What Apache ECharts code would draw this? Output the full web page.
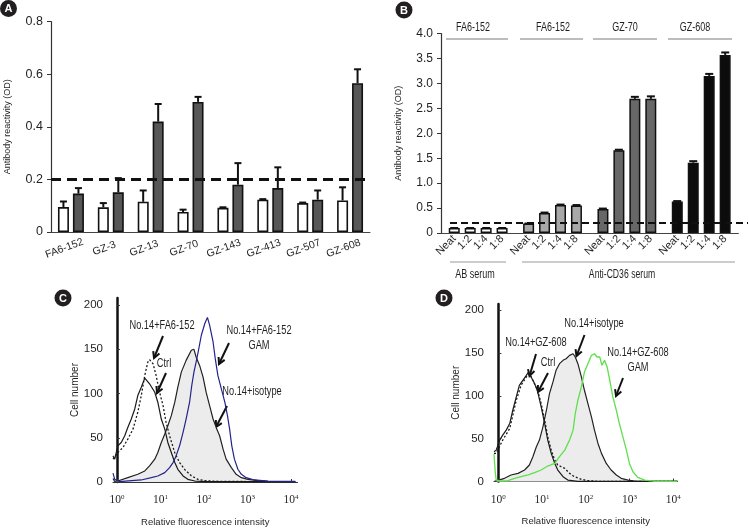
<!DOCTYPE html>
<html><head><meta charset="utf-8">
<script src="https://cdn.jsdelivr.net/npm/echarts@6/dist/echarts.min.js"></script>
<style>html,body{margin:0;padding:0;background:#fff}#c{width:749px;height:528px}</style>
</head><body><div id="c"></div>
<script>
const FONT = "'Liberation Sans Narrow','Liberation Sans',Arial,sans-serif";
const SERIF = "'Liberation Serif','DejaVu Serif',serif";

// ---------- Panel A ----------
const A_categories = ['FA6-152','GZ-3','GZ-13','GZ-70','GZ-143','GZ-413','GZ-507','GZ-608'];
const A_white    = [0.095,0.094,0.115,0.076,0.092,0.123,0.110,0.120];
const A_whiteErr = [0.116,0.110,0.158,0.085,0.094,0.125,0.112,0.170];
const A_dark     = [0.146,0.151,0.420,0.495,0.180,0.167,0.123,0.566];
const A_darkErr  = [0.167,0.205,0.487,0.514,0.262,0.246,0.158,0.619];
const A_cutoff = 0.2;

// ---------- Panel B ----------
const B_groups = ['FA6-152 AB','FA6-152','GZ-70','GZ-608'];
const B_groupLabels = ['FA6-152','FA6-152','GZ-70','GZ-608'];
const B_dilutions = ['Neat','1:2','1:4','1:8'];
const B_neat = [0.10,0.19,0.48,0.63];
const B_d2   = [0.10,0.40,1.66,1.41];
const B_d4   = [0.10,0.56,2.69,3.15];
const B_d8   = [0.10,0.55,2.69,3.57];
const B_neatErr = [0.10,0.19,0.49,0.64];
const B_d2Err   = [0.10,0.41,1.67,1.44];
const B_d4Err   = [0.10,0.57,2.73,3.19];
const B_d8Err   = [0.10,0.56,2.74,3.62];
const B_cutoff = 0.2;
const B_serumLabels = ['AB serum','Anti-CD36 serum'];

// ---------- Panel C (x = log10 intensity, y = cell number) ----------
const C_ticks = [0,1,2,3,4];
const C_fa = [[-0.09,29.5],[-0.05,25.8],[0.02,40.9],[0.10,44.7],[0.18,52.3],[0.25,61.7],[0.33,71.2],[0.41,82.6],[0.48,97.7],[0.56,107.2],[0.64,117.4],[0.67,119.3],[0.75,111],[0.87,101.5],[0.94,90.2],[1.02,71.2],[1.10,59.8],[1.17,44.7],[1.25,33.3],[1.33,22],[1.40,14.4],[1.52,6.8],[1.63,3],[1.79,1.1],[2.09,0.4],[4.1,0.4]];
const C_ctrl = [[-0.09,25.8],[0.02,33.3],[0.14,39],[0.25,48.5],[0.37,59.8],[0.48,78.8],[0.56,97.7],[0.64,120.5],[0.71,135.6],[0.75,138.3],[0.83,133.7],[0.90,120.5],[0.98,101.5],[1.06,86.4],[1.13,67.4],[1.21,52.3],[1.33,33],[1.44,22],[1.56,14],[1.71,7],[1.86,3],[2.02,1.5],[2.40,0.6],[4.1,0.4]];
const C_iso = [[-0.09,4],[-0.05,0.6],[0.02,1.1],[0.25,4.9],[0.48,8.7],[0.64,12.5],[0.75,18.2],[0.87,25.8],[0.94,33.3],[1.02,44.7],[1.10,54.2],[1.17,63.6],[1.25,75],[1.33,90.2],[1.40,107.2],[1.48,124.2],[1.59,137.5],[1.71,148.9],[1.77,150],[1.82,141.3],[1.90,131.8],[1.98,118.6],[2.05,101.5],[2.13,86.4],[2.21,71.2],[2.28,61.7],[2.36,52.3],[2.44,37.1],[2.51,25.8],[2.63,16.3],[2.74,8.7],[2.86,4.9],[3.01,3],[3.24,1.5],[3.47,0.8],[4.1,0.4]];
const C_gam = [[-0.09,10],[-0.05,3],[0.05,0.5],[0.56,2.3],[0.79,4.9],[0.94,6.8],[1.10,10.6],[1.21,16.3],[1.29,22],[1.36,29.5],[1.44,40.9],[1.52,56.1],[1.59,71.2],[1.67,90.2],[1.72,109.1],[1.77,124.2],[1.82,135.6],[1.86,145.1],[1.94,165.9],[2.02,179.2],[2.08,186],[2.13,177.3],[2.21,158.3],[2.26,139.4],[2.32,120.5],[2.40,105.3],[2.48,90.2],[2.54,75],[2.59,59.8],[2.64,40.9],[2.70,25.8],[2.78,14.4],[2.86,8.7],[2.97,4.9],[3.16,2.3],[3.47,1.1],[4.1,0.8]];

// ---------- Panel D ----------
const D_gz = [[-0.10,34.7],[-0.05,36.6],[0.03,48.3],[0.10,54.1],[0.18,59.9],[0.26,67.6],[0.33,83.1],[0.41,98.6],[0.48,112.2],[0.56,118],[0.64,123.8],[0.69,127.7],[0.75,121.9],[0.83,114.1],[0.90,104.5],[0.98,87],[1.06,67.6],[1.13,48.3],[1.21,32.8],[1.29,21.1],[1.36,13.4],[1.48,5.6],[1.59,1.7],[1.82,0.2],[4.1,0.2]];
const D_ctrl = [[-0.10,32.8],[-0.05,32.8],[0.10,48.3],[0.26,61.8],[0.41,94.8],[0.52,112.2],[0.64,121.9],[0.71,125.8],[0.79,118],[0.90,106.4],[0.98,90.9],[1.06,71.5],[1.13,52.1],[1.21,36.6],[1.29,25],[1.36,19.2],[1.44,17.2],[1.52,15.3],[1.63,9.5],[1.74,5.6],[1.90,2.5],[2.05,1],[2.28,0.2],[4.1,0.2]];
const D_iso = [[-0.09,0.2],[0.14,3.7],[0.29,7.6],[0.45,9.5],[0.60,13.4],[0.71,19.2],[0.79,28.9],[0.87,40.5],[0.94,48.3],[1.02,63.8],[1.10,83.1],[1.17,102.5],[1.25,116.1],[1.32,129.7],[1.40,137.4],[1.48,141.3],[1.55,143.2],[1.63,147.1],[1.71,149],[1.76,145.2],[1.82,137.4],[1.90,121.9],[1.97,106.4],[2.05,90.9],[2.13,75.4],[2.20,59.9],[2.28,44.4],[2.36,32.8],[2.47,21.1],[2.58,13.4],[2.70,7.6],[2.81,3.7],[2.97,1.7],[3.12,0.6],[3.35,0.2],[4.1,0.2]];
const D_gam = [[-0.10,32],[-0.07,10],[-0.05,1.7],[0.06,0.6],[0.22,1],[0.37,3.7],[0.52,5.6],[0.68,7.6],[0.83,10.3],[0.98,13.4],[1.13,18],[1.29,21.1],[1.40,28.9],[1.52,36.6],[1.63,48.3],[1.71,59.9],[1.76,79.3],[1.82,94.8],[1.90,110.3],[1.97,127.7],[2.05,137.4],[2.13,147.1],[2.20,149],[2.26,145.2],[2.32,145.2],[2.37,135.5],[2.43,141.3],[2.49,133.5],[2.55,118],[2.62,98.6],[2.70,83.1],[2.77,67.6],[2.85,52.1],[2.93,36.6],[3.00,21.1],[3.08,11.4],[3.19,4.8],[3.35,1.7],[3.58,0.2],[4.1,0.2]];

// ---------- styles ----------
const TXT = '#231f20';
const B_colors = ['#ffffff','#a8a8a8','#676767','#0c0c0c'];
const BAR_W = 11;
const NARROW = 0.74;

function errorBar(offset, cap) {
  return function (params, api) {
    const i = api.value(0);
    const base = api.coord([i, api.value(1)]);
    const top = api.coord([i, api.value(2)]);
    const x = base[0] + offset;
    return { type: 'group', children: [
      { type: 'line', shape: { x1: x, y1: base[1], x2: x, y2: top[1] }, style: { stroke: '#111', lineWidth: 2 } },
      { type: 'line', shape: { x1: x - cap, y1: top[1], x2: x + cap, y2: top[1] }, style: { stroke: '#111', lineWidth: 2 } }
    ]};
  };
}

function arrow(x1, y1, x2, y2) {
  const a = Math.atan2(y2 - y1, x2 - x1), L = 7, w = 0.5;
  return [
    { type: 'line', shape: { x1, y1, x2, y2 }, style: { stroke: '#111', lineWidth: 2 } },
    { type: 'polyline', shape: { points: [[x2 - L * Math.cos(a - w), y2 - L * Math.sin(a - w)], [x2, y2], [x2 - L * Math.cos(a + w), y2 - L * Math.sin(a + w)]] }, style: { stroke: '#111', lineWidth: 2, fill: null } }
  ];
}
function txt(x, y, t, size, sx, rot) {
  return { type: 'text', x, y, scaleX: sx || NARROW, rotation: rot || 0,
    style: { text: t, fontSize: size || 12.5, fontFamily: FONT, fill: TXT, align: 'center', verticalAlign: 'middle' } };
}
function badge(cx, cy, letter) {
  return [
    { type: 'circle', shape: { cx, cy, r: 8.5 }, style: { fill: '#231f20' } },
    { type: 'text', x: cx, y: cy + 0.5, style: { text: letter, fontSize: 11, fontWeight: 'bold', fontFamily: "'Liberation Sans',Arial,sans-serif", fill: '#fff', align: 'center', verticalAlign: 'middle' } }
  ];
}

const decFmt = v => (v === 0 ? '0' : v.toFixed(1));
const flowX = (idx, min, max) => ({
  gridIndex: idx, type: 'value', min, max,
  axisLine: { lineStyle: { color: '#333', width: 1 } },
  axisTick: { show: true, inside: true, length: 3, customValues: C_ticks, lineStyle: { color: '#333' } },
  splitLine: { show: false },
  axisLabel: { customValues: C_ticks, margin: 12, formatter: v => '{b|10}{s|' + v + '}',
    rich: { b: { fontSize: 11.5, fontFamily: SERIF, color: TXT }, s: { fontSize: 7, fontFamily: SERIF, color: TXT, verticalAlign: 'top' } } },
  name: 'Relative fluorescence intensity', nameLocation: 'middle', nameGap: 35,
  nameTextStyle: { fontSize: 9.5, fontFamily: FONT, color: TXT }
});
const flowY = (idx, max) => ({
  gridIndex: idx, type: 'value', min: 0, max,
  axisLine: { lineStyle: { color: '#111', width: 2.5 } },
  axisTick: { show: true, inside: true, length: 3, customValues: [0,50,100,150,200], lineStyle: { color: '#333' } },
  splitLine: { show: false },
  axisLabel: { customValues: [0,50,100,150,200], margin: 10, fontSize: 11.5, fontFamily: FONT, color: TXT },
  name: 'Cell number', nameLocation: 'middle', nameGap: 33,
  nameTextStyle: { fontSize: 10, fontFamily: FONT, color: TXT }
});
const flowLine = (xi, data, color, type, width, area) => ({
  type: 'line', xAxisIndex: xi, yAxisIndex: xi, data, showSymbol: false, smooth: false,
  lineStyle: { color, type: type || 'solid', width: width || 1.2 },
  areaStyle: area ? { color: area, opacity: 1 } : undefined,
  silent: true
});

const bSeries = [B_neat, B_d2, B_d4, B_d8];
const bErr = [B_neatErr, B_d2Err, B_d4Err, B_d8Err];

const option = {
  animation: false,
  backgroundColor: '#fff',
  textStyle: { fontFamily: FONT },
  grid: [
    { left: 51, top: 21.7, width: 319, height: 210.3 },
    { left: 441, top: 33.5, width: 297.4, height: 199.5 },
    { left: 450, top: 33.5, right: 1, height: 199.5 },
    { left: 113, top: 298, width: 184.5, height: 184 },
    { left: 494, top: 304, width: 183.5, height: 177.5 }
  ],
  xAxis: [
    { gridIndex: 0, type: 'category', data: A_categories,
      axisLine: { lineStyle: { color: '#444', width: 1 } }, axisTick: { show: false },
      axisLabel: { rotate: 20, align: 'center', verticalAlign: 'middle', padding: [0, 14, 0, 0], margin: 14, fontSize: 10.5, fontFamily: FONT, color: TXT, interval: 0 } },
    { gridIndex: 1, type: 'category', data: B_groups,
      axisLine: { lineStyle: { color: '#444', width: 1 } }, axisTick: { show: false }, axisLabel: { show: false } },
    { gridIndex: 2, type: 'value', min: 0, max: 1, show: false },
    flowX(3, -0.09, 4.15),
    flowX(4, -0.1, 4.1)
  ],
  yAxis: [
    { gridIndex: 0, type: 'value', min: 0, max: 0.8, interval: 0.2,
      axisLine: { show: true, lineStyle: { color: '#333', width: 1.2 } },
      axisTick: { show: true, length: 4, lineStyle: { color: '#333' } }, splitLine: { show: false },
      axisLabel: { formatter: decFmt, fontSize: 12.5, fontFamily: FONT, color: TXT, margin: 8 },
      name: 'Antibody reactivity (OD)', nameLocation: 'middle', nameGap: 39,
      nameTextStyle: { fontSize: 9, fontFamily: FONT, color: TXT } },
    { gridIndex: 1, type: 'value', min: 0, max: 4, interval: 0.5,
      axisLine: { show: true, lineStyle: { color: '#333', width: 1.2 } },
      axisTick: { show: true, length: 4, lineStyle: { color: '#333' } }, splitLine: { show: false },
      axisLabel: { formatter: decFmt, fontSize: 12, fontFamily: FONT, color: TXT, margin: 8 },
      name: 'Antibody reactivity (OD)', nameLocation: 'middle', nameGap: 38,
      nameTextStyle: { fontSize: 9, fontFamily: FONT, color: TXT } },
    { gridIndex: 2, type: 'value', min: 0, max: 4, show: false },
    flowY(3, 208),
    flowY(4, 207)
  ],
  series: [
    // Panel A
    { type: 'bar', xAxisIndex: 0, yAxisIndex: 0, data: A_white, barWidth: BAR_W, barGap: '36%',
      itemStyle: { color: '#fff', borderColor: '#111', borderWidth: 1.6 } },
    { type: 'bar', xAxisIndex: 0, yAxisIndex: 0, data: A_dark, barWidth: BAR_W, barGap: '36%',
      itemStyle: { color: '#575757', borderColor: '#111', borderWidth: 1.6 },
      markLine: { silent: true, symbol: 'none', label: { show: false }, data: [{ yAxis: A_cutoff }],
        lineStyle: { color: '#111', width: 3, type: [10, 6] } } },
    { type: 'custom', xAxisIndex: 0, yAxisIndex: 0, renderItem: errorBar(-7.5, 3.5), encode: { x: 0, y: 1 },
      data: A_categories.map((c, i) => [i, A_white[i], A_whiteErr[i]]) },
    { type: 'custom', xAxisIndex: 0, yAxisIndex: 0, renderItem: errorBar(7.5, 3.5), encode: { x: 0, y: 1 },
      data: A_categories.map((c, i) => [i, A_dark[i], A_darkErr[i]]) },
    // Panel B
    ...bSeries.map((vals, d) => ({
      type: 'bar', name: B_dilutions[d], xAxisIndex: 1, yAxisIndex: 1, barWidth: BAR_W, barGap: '45%',
      data: vals.map((v, g) => ({ value: v, itemStyle: { color: B_colors[g] } })),
      itemStyle: { borderColor: '#111', borderWidth: 1.5 },
      label: { show: true, position: 'bottom', distance: 4, rotate: 45, align: 'right', verticalAlign: 'middle',
        formatter: '{a}', fontSize: 11, fontFamily: FONT, color: TXT }
    })),
    ...bErr.map((errs, d) => ({
      type: 'custom', xAxisIndex: 1, yAxisIndex: 1, renderItem: errorBar((d - 1.5) * 16, 4), encode: { x: 0, y: 1 },
      data: B_groups.map((g, i) => [i, bSeries[d][i], errs[i]])
    })),
    { type: 'line', xAxisIndex: 2, yAxisIndex: 2, data: [[0, B_cutoff], [1, B_cutoff]], showSymbol: false, silent: true,
      lineStyle: { color: '#111', width: 2, type: [7, 4] } },
    // Panel C
    flowLine(3, C_iso, '#222', 'solid', 1.2, '#ececec'),
    flowLine(3, C_fa, '#1a1a1a', 'solid', 1.2),
    flowLine(3, C_ctrl, '#1a1a1a', [2, 2], 1.3),
    flowLine(3, C_gam, '#23238c', 'solid', 1.2),
    // Panel D
    flowLine(4, D_iso, '#222', 'solid', 1.2, '#ececec'),
    flowLine(4, D_gz, '#1a1a1a', 'solid', 1.2),
    flowLine(4, D_ctrl, '#1a1a1a', [2, 2], 1.3),
    flowLine(4, D_gam, '#5ee04a', 'solid', 1.3)
  ],
  graphic: [
    ...badge(8.5, 8.5, 'A'), ...badge(404, 10, 'B'), ...badge(63, 298, 'C'), ...badge(444, 298, 'D'),
    // Panel B group headers
    ...B_groupLabels.map((t, i) => txt([473, 553, 625, 695][i], 28, t, 12.5, 0.72)),
    ...[[446, 508], [520, 583], [593, 657], [668, 732]].map(s => ({ type: 'line', shape: { x1: s[0], y1: 39, x2: s[1], y2: 39 }, style: { stroke: '#7a7a7a', lineWidth: 1 } })),
    // Panel B serum brackets
    { type: 'line', shape: { x1: 450, y1: 262, x2: 506, y2: 262 }, style: { stroke: '#9a9a9a', lineWidth: 1 } },
    { type: 'line', shape: { x1: 522, y1: 262, x2: 735, y2: 262 }, style: { stroke: '#9a9a9a', lineWidth: 1 } },
    txt(475, 275, B_serumLabels[0], 12, 0.75), txt(622, 275, B_serumLabels[1], 12, 0.72),
    // Panel C annotations
    txt(162, 326, 'No.14+FA6-152', 12.5), txt(164, 364, 'Ctrl', 12.5),
    txt(259, 331, 'No.14+FA6-152', 12.5), txt(259, 346, 'GAM', 12.5), txt(252, 392, 'No.14+isotype', 12.5),
    ...arrow(163, 336, 154, 358), ...arrow(166, 373, 157, 393), ...arrow(229, 343, 219, 364), ...arrow(227, 406, 216, 427),
    // Panel D annotations
    txt(536, 343, 'No.14+GZ-608', 12.5), txt(548, 363, 'Ctrl', 12.5), txt(594, 324, 'No.14+isotype', 12.5),
    txt(638, 353, 'No.14+GZ-608', 12.5), txt(638, 368, 'GAM', 12.5),
    ...arrow(536, 354, 529.5, 376), ...arrow(548, 373, 538, 392), ...arrow(584.5, 335, 576.5, 356), ...arrow(623, 378, 616, 396)
  ]
};

const chart = echarts.init(document.getElementById('c'), null, { renderer: 'canvas' });
chart.setOption(option);
</script></body></html>
